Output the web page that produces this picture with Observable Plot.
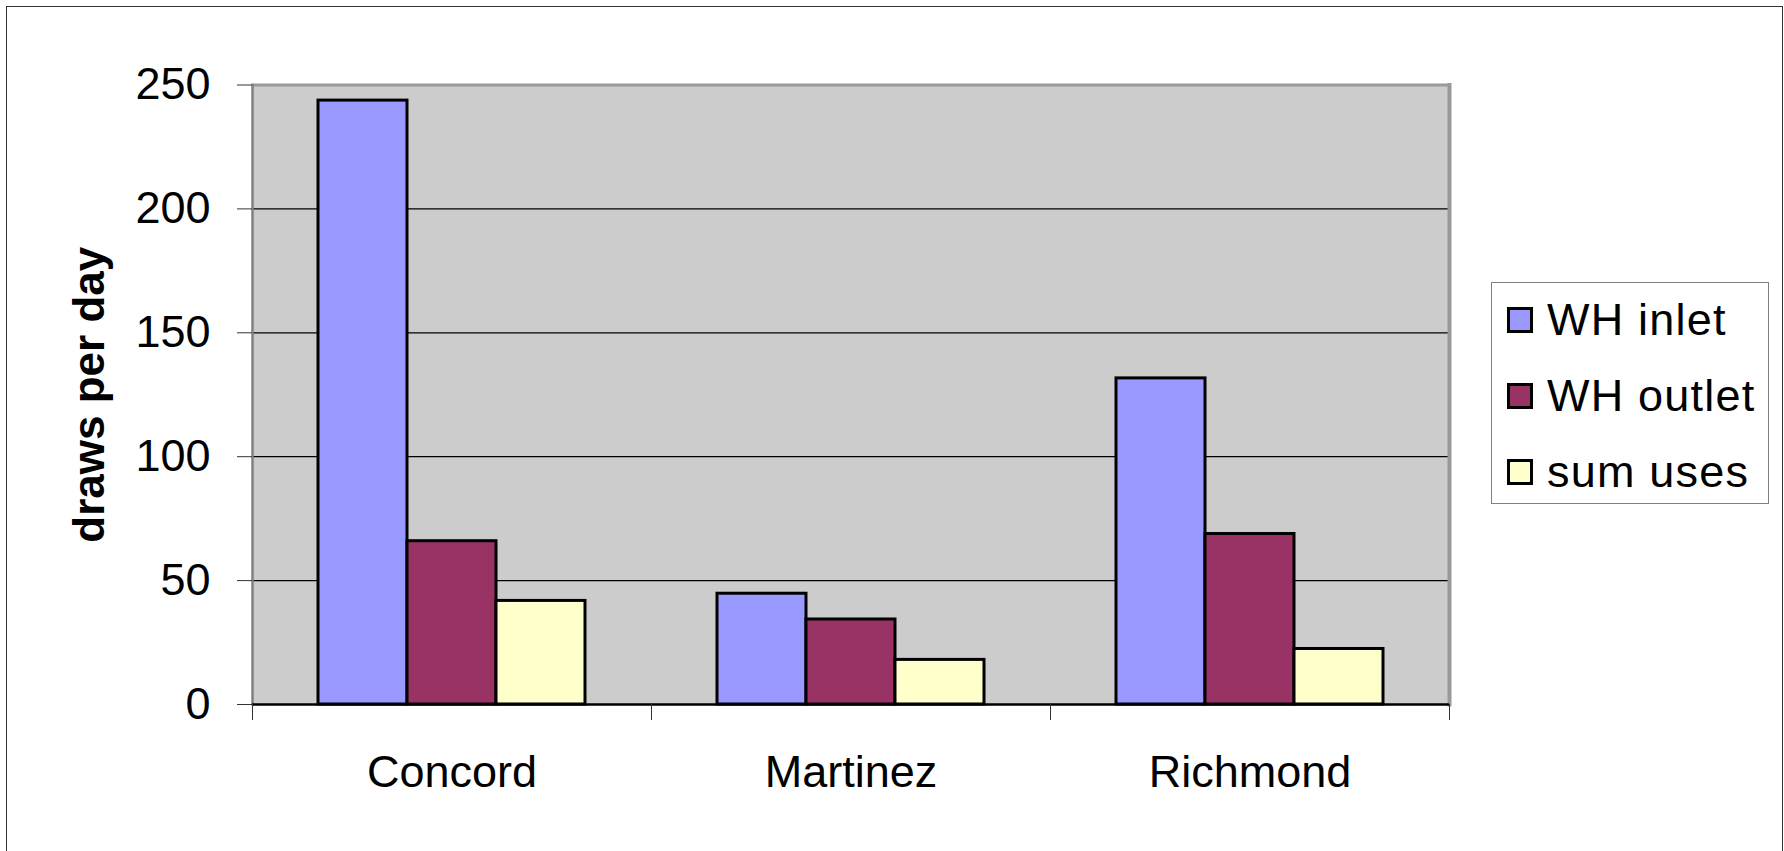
<!DOCTYPE html>
<html>
<head>
<meta charset="utf-8">
<script src="https://cdn.jsdelivr.net/npm/d3@7"></script>
<script src="https://cdn.jsdelivr.net/npm/@observablehq/plot@0.6"></script>
<style>
  html, body { margin: 0; padding: 0; background: #fff; overflow: hidden; }
  #wrap { position: relative; width: 1784px; height: 851px; font-family: "Liberation Sans", Arial, sans-serif; }
  #border { position: absolute; left: 6px; top: 6px; width: 1777px; height: 900px; border: 1.5px solid #333; box-sizing: border-box; }
  #chart { position: absolute; left: 0; top: 0; }
  #legend { position: absolute; left: 1491px; top: 282px; width: 278px; height: 222px; border: 1.5px solid #808080; box-sizing: border-box; background: #fff; }
  .item { position: absolute; left: 15px; height: 52px; line-height: 52px; display: flex; align-items: center; font-size: 45px; letter-spacing: 1.2px; color: #000; white-space: nowrap; }
  .sw { width: 20px; height: 20px; border: 3px solid #000; margin-right: 14px; flex: none; }
</style>
</head>
<body>
<div id="wrap">
  <div id="border"></div>
  <div id="chart"></div>
  <div id="legend"></div>
</div>
<script>
// ---- data ----
const cities = ["Concord", "Martinez", "Richmond"];
const series = ["WH inlet", "WH outlet", "sum uses"];
const whInlet = [243.7, 44.7, 131.6];
const whOutlet = [65.9, 34.3, 68.8];
const sumUses = [41.8, 18.0, 22.4];
const seriesColors = ["#9999ff", "#993366", "#ffffcc"];
const yTicks = [0, 50, 100, 150, 200, 250];
const yTitle = "draws per day";

const valuesBySeries = [whInlet, whOutlet, sumUses];
const data = [];
cities.forEach((c, i) => series.forEach((s, j) => data.push({city: c, series: s, value: valuesBySeries[j][i]})));

// ---- layout ----
const W = 1784, H = 851, mL = 252, mR = 335, mT = 84.5, mB = 147;
const bandW = (W - mL - mR) / cities.length;

const chart = Plot.plot({
  width: W, height: H,
  marginLeft: mL, marginRight: mR, marginTop: mT, marginBottom: mB,
  style: {fontFamily: '"Liberation Sans", Arial, sans-serif', fontSize: "45px", color: "#000", background: "transparent", overflow: "visible"},
  fx: {domain: cities, padding: 0, label: null},
  x: {domain: series, paddingInner: 0, paddingOuter: 0.72, axis: null},
  y: {domain: [yTicks[0], yTicks[yTicks.length - 1]]},
  color: {domain: series, range: seriesColors},
  marks: [
    Plot.frame({fill: "#cccccc", stroke: null, shapeRendering: "crispEdges"}),
    Plot.gridY(yTicks.slice(1, -1), {stroke: "#000", strokeOpacity: 1, strokeWidth: 1.3}),
    Plot.ruleY([yTicks[yTicks.length - 1]], {stroke: "#999", strokeWidth: 3}),
    Plot.frame({anchor: "left", facetAnchor: "left", stroke: "#808080", strokeWidth: 2.5}),
    Plot.frame({anchor: "right", facetAnchor: "right", stroke: "#999", strokeWidth: 4}),
    Plot.barY(data, {fx: "city", x: "series", y: "value", fill: "series", stroke: "#000", strokeWidth: 3}),
    Plot.ruleY([0], {stroke: "#000", strokeWidth: 2.5}),
    Plot.axisY(yTicks, {tickSize: 15, tickPadding: 27, stroke: "#333", label: null}),
    Plot.axisFx({anchor: "bottom", tickSize: 0, tickPadding: 51, label: null}),
    Plot.axisFx({anchor: "bottom", text: null, tickSize: 16, dx: -bandW / 2, stroke: "#333", label: null}),
    Plot.axisFx([cities[cities.length - 1]], {anchor: "bottom", text: null, tickSize: 16, dx: bandW / 2, stroke: "#333", label: null}),
    Plot.text([yTitle], {frameAnchor: "left", facetAnchor: "left", textAnchor: "middle", rotate: -90, dx: -163, fontWeight: "bold", fontSize: 44, fill: "#000"})
  ]
});
document.getElementById("chart").appendChild(chart);

// ---- legend ----
const legend = document.getElementById("legend");
const rowTops = [10.5, 86.5, 162.5];
series.forEach((s, i) => {
  const item = document.createElement("div");
  item.className = "item";
  item.style.top = rowTops[i] + "px";
  const sw = document.createElement("span");
  sw.className = "sw";
  sw.style.background = seriesColors[i];
  const t = document.createElement("span");
  t.textContent = s;
  item.appendChild(sw);
  item.appendChild(t);
  legend.appendChild(item);
});
</script>
</body>
</html>
